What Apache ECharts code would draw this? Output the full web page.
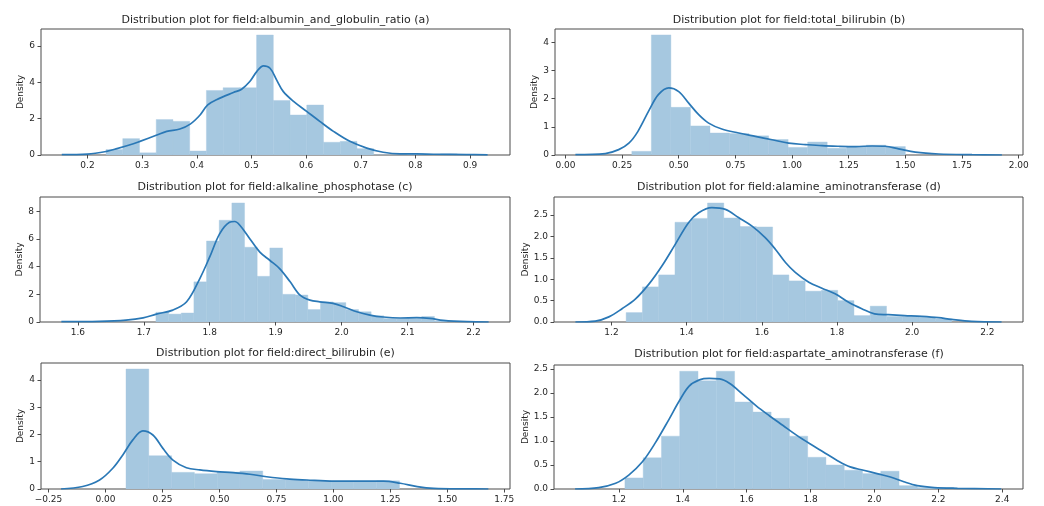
<!DOCTYPE html>
<html>
<head>
<meta charset="utf-8">
<script src="https://cdn.jsdelivr.net/npm/echarts@6/dist/echarts.min.js"></script>
<style>html,body{margin:0;padding:0;background:#fff}#c{width:1044px;height:506px}</style>
</head>
<body>
<div id="c"></div>
<script>
// ---------- Titles ----------
const titles = [
  "Distribution plot for field:albumin_and_globulin_ratio (a)",
  "Distribution plot for field:total_bilirubin (b)",
  "Distribution plot for field:alkaline_phosphotase (c)",
  "Distribution plot for field:alamine_aminotransferase (d)",
  "Distribution plot for field:direct_bilirubin (e)",
  "Distribution plot for field:aspartate_aminotransferase (f)"
];

// ---------- (a) albumin_and_globulin_ratio ----------
const edgesA = [0.234,0.2646,0.2952,0.3258,0.3564,0.387,0.4176,0.4482,0.4788,0.5094,0.54,0.5706,0.6012,0.6318,0.6624,0.693,0.7236,0.7542,0.7848,0.8154,0.846,0.8766];
const histA  = [0.3,0.9,0.12,1.95,1.85,0.22,3.55,3.7,3.7,6.6,3.0,2.2,2.75,0.7,0.75,0.35,0,0,0.06,0,0.06];
const kdeXA  = [0.153,0.2,0.235,0.254,0.284,0.296,0.327,0.345,0.369,0.388,0.406,0.42,0.436,0.467,0.482,0.497,0.51,0.522,0.534,0.546,0.558,0.577,0.601,0.625,0.65,0.68,0.711,0.741,0.772,0.802,0.833,0.893,0.932];
const kdeYA  = [0.02,0.05,0.2,0.35,0.62,0.75,1.1,1.3,1.43,1.7,2.2,2.76,3.04,3.44,3.62,4.04,4.6,4.9,4.77,4.13,3.5,2.95,2.4,1.85,1.3,0.75,0.38,0.15,0.06,0.06,0.04,0.02,0.01];
const xTicksA = [0.2,0.3,0.4,0.5,0.6,0.7,0.8,0.9];
const yTicksA = [0,2,4,6];

// ---------- (b) total_bilirubin ----------
const edgesB = [0.293,0.3792,0.4654,0.5516,0.6378,0.724,0.8102,0.8964,0.9826,1.0688,1.155,1.2412,1.3274,1.4136,1.4998];
const histB  = [0.13,4.26,1.69,1.03,0.78,0.76,0.68,0.55,0.27,0.46,0.24,0.3,0.35,0.3];
const kdeXB  = [0.044,0.176,0.235,0.28,0.32,0.37,0.41,0.456,0.5,0.544,0.588,0.632,0.69,0.765,0.838,0.912,0.985,1.06,1.132,1.206,1.28,1.353,1.41,1.47,1.544,1.647,1.794,1.926];
const kdeYB  = [0.01,0.05,0.19,0.42,0.84,1.6,2.14,2.38,2.25,1.84,1.43,1.13,0.92,0.78,0.66,0.54,0.42,0.37,0.33,0.31,0.3,0.32,0.31,0.22,0.1,0.035,0.01,0];
const xTicksB = [0,0.25,0.5,0.75,1.0,1.25,1.5,1.75,2.0];
const yTicksB = [0,1,2,3,4];

// ---------- (c) alkaline_phosphotase ----------
const edgesC = [1.7184,1.7376,1.7568,1.776,1.7952,1.8144,1.8336,1.8528,1.872,1.8912,1.9104,1.9296,1.9488,1.968,1.9872,2.0064,2.0256,2.0448,2.064,2.0832,2.1024,2.1216,2.1408,2.16];
const histC  = [0.7,0.57,0.65,2.9,5.85,7.35,8.6,5.4,3.3,5.35,2.0,1.95,0.9,1.45,1.4,0.9,0.74,0.45,0.25,0.25,0.25,0.4,0.08];
const kdeXC  = [1.575,1.633,1.673,1.699,1.719,1.744,1.765,1.785,1.8,1.815,1.83,1.838,1.846,1.861,1.876,1.891,1.906,1.922,1.937,1.952,1.967,1.987,2.003,2.023,2.043,2.063,2.089,2.114,2.134,2.154,2.19,2.223];
const kdeYC  = [0.02,0.05,0.14,0.3,0.57,0.86,1.46,3.14,4.7,6.37,7.2,7.26,6.97,6.0,5.05,4.46,3.86,2.9,1.94,1.58,1.46,1.34,1.1,0.74,0.5,0.36,0.29,0.31,0.26,0.12,0.02,0];
const xTicksC = [1.6,1.7,1.8,1.9,2.0,2.1,2.2];
const yTicksC = [0,2,4,6,8];

// ---------- (d) alamine_aminotransferase ----------
const edgesD = [1.239,1.2823,1.3256,1.3689,1.4122,1.4555,1.4988,1.5421,1.5854,1.6287,1.672,1.7153,1.7586,1.8019,1.8452,1.8885,1.9318,1.9751,2.0184,2.0617,2.105];
const histD  = [0.22,0.82,1.1,2.33,2.42,2.78,2.43,2.23,2.22,1.1,0.96,0.72,0.74,0.5,0.15,0.37,0.13,0.13,0.11,0.07];
const kdeXD  = [1.104,1.157,1.193,1.228,1.264,1.3,1.335,1.37,1.405,1.432,1.467,1.503,1.538,1.574,1.609,1.636,1.663,1.689,1.725,1.76,1.795,1.831,1.866,1.9,1.937,1.98,2.026,2.07,2.105,2.158,2.238];
const kdeYD  = [0,0.02,0.12,0.31,0.54,0.89,1.32,1.82,2.32,2.55,2.67,2.63,2.44,2.24,1.97,1.7,1.39,1.16,0.93,0.79,0.66,0.46,0.31,0.19,0.17,0.15,0.13,0.1,0.06,0.015,0];
const xTicksD = [1.2,1.4,1.6,1.8,2.0,2.2];
const yTicksD = [0,0.5,1.0,1.5,2.0,2.5];

// ---------- (e) direct_bilirubin ----------
const edgesE = [0.09,0.19,0.29,0.39,0.49,0.59,0.69,0.79,0.89,0.99,1.09,1.19,1.29];
const histE  = [4.4,1.22,0.61,0.56,0.62,0.66,0.35,0.33,0.3,0.27,0.27,0.3];
const kdeXE  = [-0.195,-0.1,-0.026,0.032,0.076,0.12,0.164,0.208,0.252,0.296,0.355,0.414,0.487,0.56,0.634,0.707,0.795,0.883,1.0,1.118,1.22,1.294,1.368,1.44,1.587,1.68];
const kdeYE  = [0,0.09,0.33,0.76,1.25,1.8,2.13,1.98,1.49,1.06,0.78,0.7,0.64,0.6,0.54,0.45,0.37,0.33,0.29,0.29,0.29,0.21,0.09,0.025,0.005,0];
const xTicksE = [-0.25,0,0.25,0.5,0.75,1.0,1.25,1.5,1.75];
const yTicksE = [0,1,2,3,4];

// ---------- (f) aspartate_aminotransferase ----------
const edgesF = [1.219,1.2762,1.3334,1.3906,1.4478,1.505,1.5622,1.6194,1.6766,1.7338,1.791,1.8482,1.9054,1.9626,2.0198,2.077,2.1342,2.1914,2.2486];
const histF  = [0.23,0.65,1.1,2.45,2.25,2.45,1.81,1.6,1.47,1.1,0.66,0.5,0.39,0.32,0.37,0.07,0.03,0.03];
const kdeXF  = [1.063,1.137,1.19,1.231,1.273,1.315,1.357,1.389,1.42,1.452,1.483,1.515,1.546,1.588,1.63,1.672,1.714,1.756,1.798,1.84,1.882,1.924,1.966,2.008,2.05,2.092,2.134,2.187,2.26,2.397];
const kdeYF  = [0,0.03,0.12,0.29,0.56,0.97,1.45,1.83,2.14,2.27,2.3,2.29,2.2,1.97,1.73,1.52,1.32,1.12,0.94,0.77,0.6,0.46,0.39,0.32,0.25,0.15,0.07,0.03,0.015,0];
const xTicksF = [1.2,1.4,1.6,1.8,2.0,2.2,2.4];
const yTicksF = [0,0.5,1.0,1.5,2.0,2.5];

// ---------- assembly ----------
const panels = [
  {edges:edgesA,hist:histA,kx:kdeXA,ky:kdeYA,xt:xTicksA,yt:yTicksA,xmin:0.115,xmax:0.973,ymax:6.93,xd:1,yd:0,
   box:[41,29,469,126],title:[275.5,20]},
  {edges:edgesB,hist:histB,kx:kdeXB,ky:kdeYB,xt:xTicksB,yt:yTicksB,xmin:-0.046,xmax:2.019,ymax:4.47,xd:2,yd:0,
   box:[555,29,468,126],title:[789,20]},
  {edges:edgesC,hist:histC,kx:kdeXC,ky:kdeYC,xt:xTicksC,yt:yTicksC,xmin:1.5426,xmax:2.2554,ymax:9.03,xd:1,yd:0,
   box:[40,197,470,125],title:[275,187]},
  {edges:edgesD,hist:histD,kx:kdeXD,ky:kdeYD,xt:xTicksD,yt:yTicksD,xmin:1.047,xmax:2.295,ymax:2.92,xd:1,yd:1,
   box:[554,197,469,125],title:[789,187]},
  {edges:edgesE,hist:histE,kx:kdeXE,ky:kdeYE,xt:xTicksE,yt:yTicksE,xmin:-0.283,xmax:1.775,ymax:4.62,xd:2,yd:0,
   box:[41,363,469,126],title:[275.5,353]},
  {edges:edgesF,hist:histF,kx:kdeXF,ky:kdeYF,xt:xTicksF,yt:yTicksF,xmin:0.997,xmax:2.465,ymax:2.58,xd:1,yd:1,
   box:[554,365,469,124],title:[789,354]}
];

const FONT = 'DejaVu Sans';
const TXT = '#262626';
const BAR = '#a6c8e0';
const LINE = '#2a78b6';

function fmt(d){ return function(v){ const s = Number(v).toFixed(d); return s.replace('-', '\u2212'); }; }

const grids=[], xAxes=[], yAxes=[], series=[], graphics=[];
panels.forEach((p,i)=>{
  grids.push({left:p.box[0],top:p.box[1],width:p.box[2],height:p.box[3],show:true,
    borderColor:'#4a4a4a',borderWidth:1,backgroundColor:'transparent'});
  xAxes.push({type:'value',gridIndex:i,min:p.xmin,max:p.xmax,
    axisLine:{show:false,onZero:false},splitLine:{show:false},
    axisTick:{show:true,inside:false,length:3.5,customValues:p.xt,lineStyle:{color:'#4a4a4a'}},
    axisLabel:{show:true,customValues:p.xt,formatter:fmt(p.xd),fontFamily:FONT,fontSize:9,color:TXT,margin:6}});
  yAxes.push({type:'value',gridIndex:i,min:0,max:p.ymax,
    name:'Density',nameLocation:'middle',nameRotate:90,nameGap:(p.yd?19:16),
    nameTextStyle:{fontFamily:FONT,fontSize:9,color:TXT},
    axisLine:{show:false,onZero:false},splitLine:{show:false},
    axisTick:{show:true,inside:false,length:3.5,customValues:p.yt,lineStyle:{color:'#4a4a4a'}},
    axisLabel:{show:true,customValues:p.yt,formatter:fmt(p.yd),fontFamily:FONT,fontSize:9,color:TXT,margin:6}});
  const bars = p.hist.map((h,k)=>[p.edges[k],p.edges[k+1],h]);
  series.push({type:'custom',xAxisIndex:i,yAxisIndex:i,data:bars,clip:true,silent:true,
    encode:{x:[0,1],y:2},
    renderItem:function(params,api){
      const a=api.coord([api.value(0),0]); const b=api.coord([api.value(1),api.value(2)]);
      return {type:'rect',shape:{x:a[0],y:b[1],width:b[0]-a[0],height:a[1]-b[1]},
        style:{fill:BAR,stroke:BAR,lineWidth:0.4}};
    }});
  series.push({type:'line',xAxisIndex:i,yAxisIndex:i,data:p.kx.map((x,k)=>[x,p.ky[k]]),
    smooth:0.35,showSymbol:false,symbol:'none',silent:true,z:5,
    lineStyle:{color:LINE,width:1.7}});
  graphics.push({type:'text',x:p.title[0],y:p.title[1],
    style:{text:titles[i],align:'center',verticalAlign:'middle',font:'11px "DejaVu Sans"',fill:TXT}});
});

const chart = echarts.init(document.getElementById('c'),null,{renderer:'canvas'});
chart.setOption({animation:false,backgroundColor:'#fff',grid:grids,xAxis:xAxes,yAxis:yAxes,series:series,graphic:graphics});
</script>
</body>
</html>
